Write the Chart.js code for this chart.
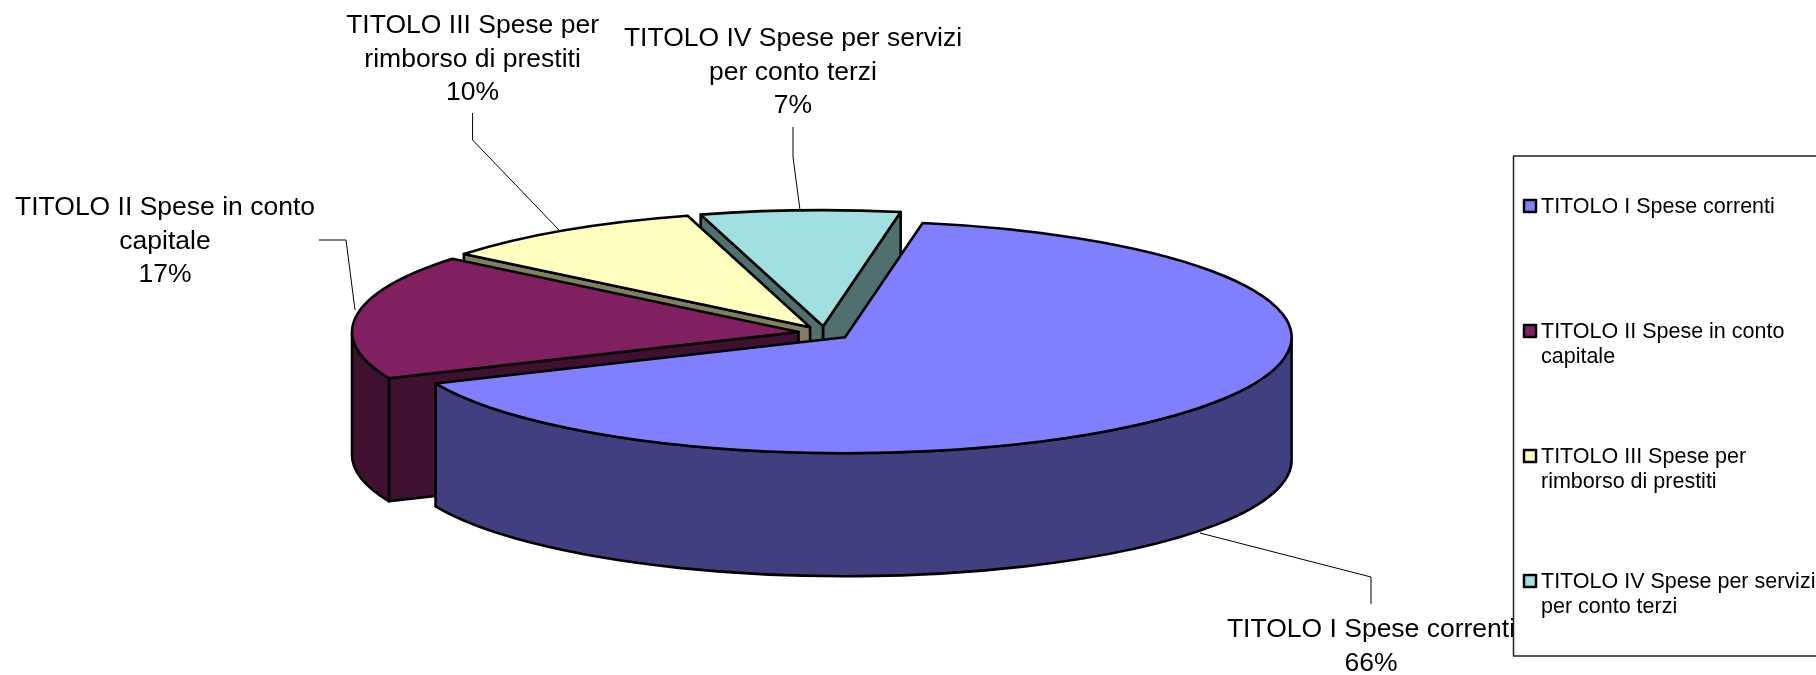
<!DOCTYPE html>
<html><head><meta charset="utf-8">
<style>html,body{margin:0;padding:0;background:#fff;overflow:hidden}canvas{display:block}</style>
<script src="https://cdn.jsdelivr.net/npm/chart.js@4"></script>
</head><body>
<canvas id="c" width="1816" height="675"></canvas>
<script>
const categories = ["TITOLO I Spese correnti","TITOLO II Spese in conto capitale","TITOLO III Spese per rimborso di prestiti","TITOLO IV Spese per servizi per conto terzi"];
const values = [65.7,17.4,9.7,7.2];
const explode = [19,19,19,19];
const topColors = ["#8080FF","#802060","#FFFFC0","#A0E0E0"];
const wallColors = ["#404080","#401030","#808060","#507070"];
const labelLines = [["TITOLO I Spese correnti"],["TITOLO II Spese in conto","capitale"],["TITOLO III Spese per","rimborso di prestiti"],["TITOLO IV Spese per servizi","per conto terzi"]];
const legendLines = [["TITOLO I Spese correnti"],["TITOLO II Spese in conto","capitale"],["TITOLO III Spese per","rimborso di prestiti"],["TITOLO IV Spese per servizi","per conto terzi"]];

const RX=446.5, RY=116, DEPTH=123;
const FONT='"Liberation Sans", Arial, sans-serif';
const labelPos=[[1371,630],[165,208],[472.6,26],[793,39]];
const leaders=[[[1371,604],[1371,577],[1200,533]],[[319,240],[346,240],[355,310]],[[472.6,113],[472.6,140],[559,230]],[[793,127],[793,157],[800,210]]];
const legendRows=[207,332,457,582];

const pie3d={
  id:'pie3d',
  beforeDatasetsDraw(chart){
    const ctx=chart.ctx, arcs=chart.getDatasetMeta(0).data;
    const sx=RX/arcs[0].outerRadius, sy=RY/arcs[0].outerRadius;
    ctx.save();
    ctx.lineJoin='round';
    ctx.lineWidth=2.6;
    ctx.strokeStyle='#000';
    // leader lines
    ctx.save();ctx.lineWidth=1;
    leaders.forEach(l=>{ctx.beginPath();l.forEach((p,i)=>i?ctx.lineTo(p[0],p[1]):ctx.moveTo(p[0],p[1]));ctx.stroke();});
    ctx.restore();
    // painter's order: back slices first
    [3,2,1,0].forEach(i=>{
      const a=arcs[i], s=a.startAngle, e=a.endAngle, m=(s+e)/2, off=a.options.offset||0;
      const X=a.x+sx*off*Math.cos(m), Y=a.y+sy*off*Math.sin(m);
      const px=t=>X+RX*Math.cos(t), py=t=>Y+RY*Math.sin(t);
      ctx.fillStyle=wallColors[i];
      const quad=t=>{ctx.beginPath();ctx.moveTo(X,Y);ctx.lineTo(px(t),py(t));ctx.lineTo(px(t),py(t)+DEPTH);ctx.lineTo(X,Y+DEPTH);ctx.closePath();ctx.fill();ctx.stroke();};
      if(Math.sin(s-Math.PI/2)>0)quad(s);
      if(Math.sin(e+Math.PI/2)>0)quad(e);
      const a0=Math.max(s,0), a1=Math.min(e,Math.PI);
      if(a1>a0){
        ctx.beginPath();
        ctx.ellipse(X,Y,RX,RY,0,a0,a1);
        ctx.lineTo(px(a1),py(a1)+DEPTH);
        ctx.ellipse(X,Y+DEPTH,RX,RY,0,a1,a0,true);
        ctx.closePath();ctx.fill();ctx.stroke();
      }
      ctx.fillStyle=topColors[i];
      ctx.beginPath();ctx.moveTo(X,Y);ctx.ellipse(X,Y,RX,RY,0,s,e);ctx.closePath();ctx.fill();ctx.stroke();
    });
    // data labels
    const total=values.reduce((p,v)=>p+v,0);
    ctx.fillStyle='#000';ctx.textAlign='center';ctx.textBaseline='middle';
    ctx.font='26.5px '+FONT;
    labelLines.forEach((lines,i)=>{
      const rows=lines.concat([Math.round(values[i]/total*100)+'%']);
      rows.forEach((t,j)=>ctx.fillText(t,labelPos[i][0],labelPos[i][1]+j*33.3));
    });
    // legend
    ctx.fillStyle='#fff';ctx.fillRect(1514,156,310,500);
    ctx.strokeStyle='#222';ctx.lineWidth=1.5;ctx.strokeRect(1513.5,156,320,500);
    ctx.textAlign='left';ctx.font='21.5px '+FONT;
    legendLines.forEach((lines,i)=>{
      const y=legendRows[i];
      ctx.fillStyle=topColors[i];ctx.strokeStyle='#000';ctx.lineWidth=2.5;
      ctx.fillRect(1524,y-7,12,12);ctx.strokeRect(1524,y-7,12,12);
      ctx.fillStyle='#000';
      lines.forEach((t,j)=>ctx.fillText(t,1541,y+j*25));
    });
    ctx.restore();
    return false;
  }
};

new Chart(document.getElementById('c'),{
  type:'pie',
  data:{labels:categories,datasets:[{data:values,offset:explode,backgroundColor:topColors,borderColor:'#000',borderWidth:0}]},
  options:{
    responsive:false,animation:false,rotation:10,
    layout:{padding:{left:3,right:170,bottom:9}},
    plugins:{legend:{display:false},tooltip:{enabled:false},title:{display:false}}
  },
  plugins:[pie3d]
});
</script>
</body></html>
